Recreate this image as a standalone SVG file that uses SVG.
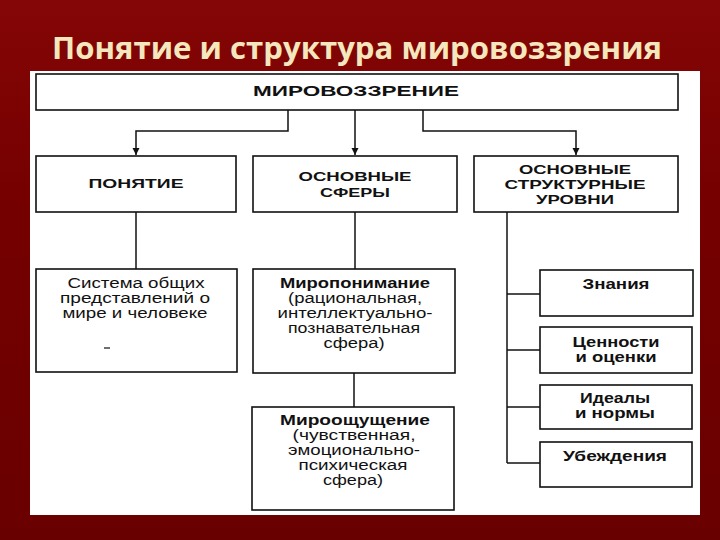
<svg xmlns="http://www.w3.org/2000/svg" width="720" height="540" viewBox="0 0 720 540">
  <defs>
    <linearGradient id="bg" x1="0" y1="0" x2="0" y2="1">
      <stop offset="0" stop-color="#850606"/>
      <stop offset="0.35" stop-color="#760000"/>
      <stop offset="1" stop-color="#690000"/>
    </linearGradient>
    <marker id="arr" viewBox="0 0 10 10" refX="10" refY="5" markerWidth="7" markerHeight="9" markerUnits="userSpaceOnUse" orient="auto">
      <path d="M0,0 L10,5 L0,10 Z" fill="#111"/>
    </marker>
    <style>
      .box { fill: #fff; stroke: #111; stroke-width: 1.6; }
      .con { fill: none; stroke: #111; stroke-width: 1.5; }
      .cap { font-family: "Liberation Sans", Arial, sans-serif; font-weight: bold; font-size: 13px; fill: #111; text-anchor: middle; }
      .txt { font-family: "Liberation Sans", Arial, sans-serif; font-size: 14px; fill: #111; text-anchor: middle; }
      .b { font-weight: bold; }
      .title { font-family: "Open Sans", "Liberation Sans", sans-serif; font-weight: bold; font-size: 30px; fill: #f4e7bd; text-anchor: middle; }
    </style>
  </defs>
  <rect x="0" y="0" width="720" height="540" fill="url(#bg)"/>
  <text class="title" x="357" y="59" textLength="610" lengthAdjust="spacingAndGlyphs">Понятие и структура мировоззрения</text>
  <rect x="30" y="71" width="670" height="444" fill="#fff"/>

  <g id="connectors">
    <path class="con" d="M288 110 V131 H136 V155" marker-end="url(#arr)"/>
    <path class="con" d="M355 110 V155" marker-end="url(#arr)"/>
    <path class="con" d="M423 110 V131 H576 V155" marker-end="url(#arr)"/>
    <path class="con" d="M136 212 V269"/>
    <path class="con" d="M355 212 V269"/>
    <path class="con" d="M354 373 V407"/>
    <path class="con" d="M507 212 V463"/>
    <path class="con" d="M507 294 H540"/>
    <path class="con" d="M507 350 H540"/>
    <path class="con" d="M507 407 H540"/>
    <path class="con" d="M507 463 H540"/>
  </g>

  <g id="mirovozzrenie">
    <rect class="box" x="36" y="74" width="642" height="36"/>
    <text class="cap" x="356" y="96" style="font-size:15.5px" textLength="206" lengthAdjust="spacingAndGlyphs">МИРОВОЗЗРЕНИЕ</text>
  </g>

  <g id="ponyatie">
    <rect class="box" x="36" y="156" width="200" height="56"/>
    <text class="cap" x="136" y="188" textLength="95" lengthAdjust="spacingAndGlyphs">ПОНЯТИЕ</text>
  </g>

  <g id="sfery">
    <rect class="box" x="253" y="156" width="204" height="56"/>
    <text class="cap" x="355" y="181" textLength="113" lengthAdjust="spacingAndGlyphs">ОСНОВНЫЕ</text>
    <text class="cap" x="355" y="197" textLength="70" lengthAdjust="spacingAndGlyphs">СФЕРЫ</text>
  </g>

  <g id="urovni">
    <rect class="box" x="474" y="156" width="204" height="56"/>
    <text class="cap" x="575" y="174" textLength="112" lengthAdjust="spacingAndGlyphs">ОСНОВНЫЕ</text>
    <text class="cap" x="575" y="189" textLength="141" lengthAdjust="spacingAndGlyphs">СТРУКТУРНЫЕ</text>
    <text class="cap" x="575" y="204" textLength="78" lengthAdjust="spacingAndGlyphs">УРОВНИ</text>
  </g>

  <g id="sistema">
    <rect class="box" x="36" y="269" width="201" height="103"/>
    <text class="txt" x="136" y="288" textLength="137" lengthAdjust="spacingAndGlyphs">Система общих</text>
    <text class="txt" x="135" y="303" textLength="150" lengthAdjust="spacingAndGlyphs">представлений о</text>
    <text class="txt" x="135" y="318" textLength="145" lengthAdjust="spacingAndGlyphs">мире и человеке</text>
    <path d="M104 348 H110" stroke="#111" stroke-width="1.2"/>
  </g>

  <g id="miroponimanie">
    <rect class="box" x="253" y="269" width="202" height="104"/>
    <text class="txt b" x="355" y="288" textLength="150" lengthAdjust="spacingAndGlyphs">Миропонимание</text>
    <text class="txt" x="355" y="303" textLength="134" lengthAdjust="spacingAndGlyphs">(рациональная,</text>
    <text class="txt" x="355" y="318" textLength="155" lengthAdjust="spacingAndGlyphs">интеллектуально-</text>
    <text class="txt" x="354" y="333" textLength="132" lengthAdjust="spacingAndGlyphs">познавательная</text>
    <text class="txt" x="354" y="348" textLength="61" lengthAdjust="spacingAndGlyphs">сфера)</text>
  </g>

  <g id="mirooshchushchenie">
    <rect class="box" x="252" y="407" width="202" height="103"/>
    <text class="txt b" x="355" y="425" textLength="150" lengthAdjust="spacingAndGlyphs">Мироощущение</text>
    <text class="txt" x="354" y="440" textLength="123" lengthAdjust="spacingAndGlyphs">(чувственная,</text>
    <text class="txt" x="354" y="455" textLength="132" lengthAdjust="spacingAndGlyphs">эмоционально-</text>
    <text class="txt" x="353" y="470" textLength="109" lengthAdjust="spacingAndGlyphs">психическая</text>
    <text class="txt" x="353" y="485" textLength="60" lengthAdjust="spacingAndGlyphs">сфера)</text>
  </g>

  <g id="znaniya">
    <rect class="box" x="540" y="270" width="153" height="46"/>
    <text class="txt b" x="616" y="289" textLength="67" lengthAdjust="spacingAndGlyphs">Знания</text>
  </g>

  <g id="tsennosti">
    <rect class="box" x="540" y="327" width="152" height="46"/>
    <text class="txt b" x="616" y="347" textLength="87" lengthAdjust="spacingAndGlyphs">Ценности</text>
    <text class="txt b" x="616" y="362" textLength="81" lengthAdjust="spacingAndGlyphs">и оценки</text>
  </g>

  <g id="idealy">
    <rect class="box" x="540" y="385" width="152" height="44"/>
    <text class="txt b" x="615" y="403" textLength="70" lengthAdjust="spacingAndGlyphs">Идеалы</text>
    <text class="txt b" x="615" y="418" textLength="80" lengthAdjust="spacingAndGlyphs">и нормы</text>
  </g>

  <g id="ubezhdeniya">
    <rect class="box" x="540" y="442" width="152" height="45"/>
    <text class="txt b" x="615" y="461" textLength="104" lengthAdjust="spacingAndGlyphs">Убеждения</text>
  </g>
</svg>
